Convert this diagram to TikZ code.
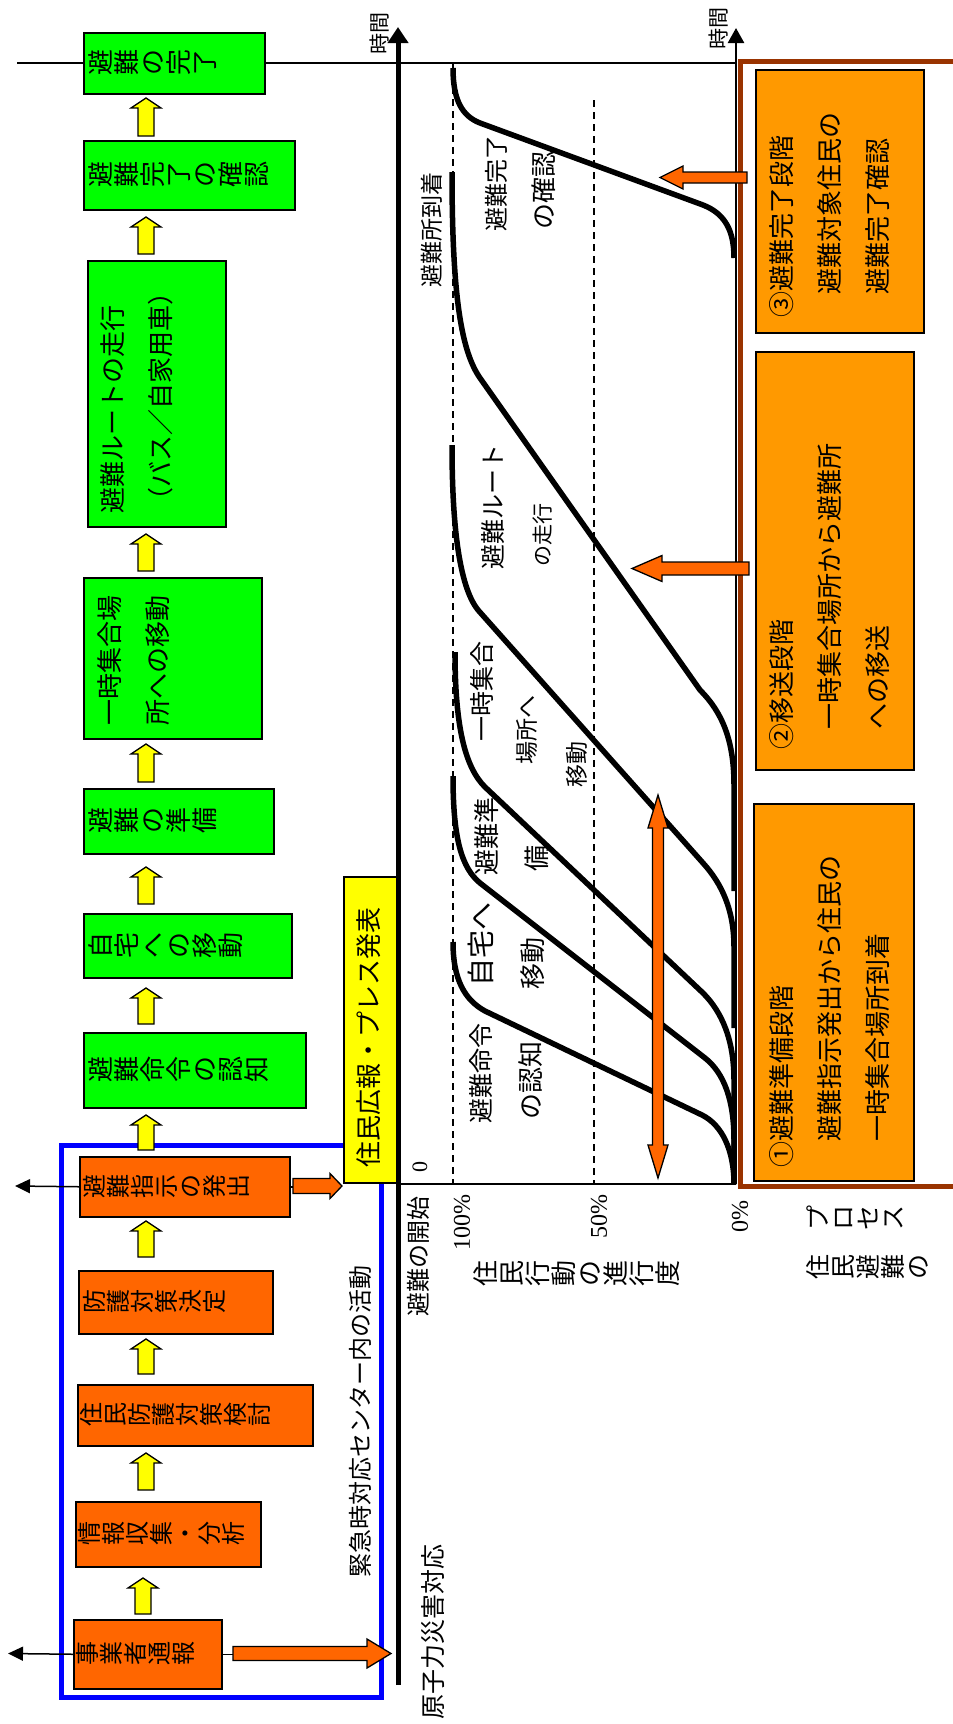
\documentclass[tikz,border=0pt]{standalone}
\usepackage{fontspec}
\setmainfont{Liberation Serif}
\newfontfamily\jp{Noto Sans CJK JP}
\usetikzlibrary{arrows.meta,calc}
\definecolor{gfill}{HTML}{00FF00}
\definecolor{ofill}{HTML}{FF6600}
\definecolor{pfill}{HTML}{FF9900}
\definecolor{brownc}{HTML}{993300}
\definecolor{yfill}{HTML}{FFFF00}
\definecolor{bluec}{HTML}{0000FF}
\newcommand\jps[1]{\fontsize{#1}{#1}\selectfont\jp}
\newcommand\bx[6]{\node[#2, minimum width={(#5-#3)*1pt}, minimum height={(#6-#4)*1pt}] (#1) at (#3,#4) {};}
\newcommand\yarr[3]{\draw[yarrow] (#1-8,#3) -- (#1-8,#2+10) -- (#1-15,#2+10) -- (#1,#2) -- (#1+15,#2+10) -- (#1+8,#2+10) -- (#1+8,#3) -- cycle;}
% horizontal block arrow: tail x, head-base x, tip x, y centre, shaft half, head half
\newcommand\harr[6]{\draw[oarrow] (#1,#4-#5) -- (#2,#4-#5) -- (#2,#4-#6) -- (#3,#4) -- (#2,#4+#6) -- (#2,#4+#5) -- (#1,#4+#5) -- cycle;}
\begin{document}
\begin{tikzpicture}[x=1pt,y=-1pt,
  box/.style={draw=black, line width=1.5pt, inner sep=0pt, anchor=north west},
  gbox/.style={box, fill=gfill},
  obox/.style={box, fill=ofill},
  pbox/.style={box, fill=pfill},
  ybox/.style={box, fill=yfill, line width=2pt},
  rt/.style={rotate=90, inner sep=0pt, anchor=west},
  tate/.style={rotate=90, inner sep=0pt, anchor=north, align=center},
  curve/.style={line width=5.5pt, line join=round},
  yarrow/.style={fill=yfill, draw=black, line width=1.3pt, line join=miter},
  oarrow/.style={fill=ofill, draw=black, line width=1.3pt, line join=miter},
  dashln/.style={line width=1.5pt, dash pattern=on 7pt off 5pt},
  thinln/.style={line width=1.5pt}
]
\useasboundingbox (0,0) rectangle (953,1724);
\clip (0,0) rectangle (953,1724);

% top horizontal line
\coordinate (tl) at (17,63);
\coordinate (tr) at (737,63);
\draw[thinln] (tl) -- (tr);

% dashed guide lines
\draw[dashln] (453,63) -- (453,1184);
\draw[dashln] (594,100) -- (594,1184);

% blue box
\draw[bluec, line width=5pt] (61,1145) rectangle (381,1697);
\node[rt, font=\jps{24}] (centre) at (360,1578) {緊急時対応センター内の活動};

% green boxes
\bx{g1}{gbox}{83}{32}{264}{93}
\bx{g2}{gbox}{83}{140}{294}{209}
\bx{g3}{gbox}{87}{260}{225}{526}
\bx{g4}{gbox}{83}{577}{261}{738}
\bx{g5}{gbox}{83}{788}{273}{853}
\bx{g6}{gbox}{83}{913}{291}{977}
\bx{g7}{gbox}{83}{1032}{305}{1107}
\node[tate, font=\jps{26}] at (88,62.5) {避\\難\\の\\完\\了};
\node[tate, font=\jps{26}] at (88,174.5) {避\\難\\完\\了\\の\\確\\認};
\node[rt, font=\jps{26}] at (113,514) {避難ルートの走行};
\node[rt, font=\jps{26}] at (161,514) {（バス／自家用車）};
\node[rt, font=\jps{26}] at (110,726) {一時集合場};
\node[rt, font=\jps{26}] at (158,726) {所への移動};
\node[tate, font=\jps{26}] at (88,820.5) {避\\難\\の\\準\\備};
\node[tate, font=\jps{26}] at (88,945) {自\\宅\\へ\\の\\移\\動};
\node[tate, font=\jps{26}] at (88,1069.5) {避\\難\\命\\令\\の\\認\\知};

% orange boxes
\bx{o1}{obox}{79}{1156}{289}{1216}
\bx{o2}{obox}{78}{1270}{272}{1333}
\bx{o3}{obox}{77}{1384}{312}{1445}
\bx{o4}{obox}{75}{1501}{260}{1566}
\bx{o5}{obox}{73}{1619}{221}{1688}
\node[tate, font=\jps{24}] at (83,1186) {避\\難\\指\\示\\の\\発\\出};
\node[tate, font=\jps{24}] at (83,1301.5) {防\\護\\対\\策\\決\\定};
\node[tate, font=\jps{24}] at (80,1414.5) {住\\民\\防\\護\\対\\策\\検\\討};
\node[tate, font=\jps{24}] at (78,1533.5) {情\\報\\収\\集\\・\\分\\析};
\node[tate, font=\jps{24}] at (76,1653.5) {事\\業\\者\\通\\報};

% yellow up arrows
\yarr{146}{98}{136}
\yarr{146}{217}{254}
\yarr{146}{534}{571}
\yarr{146}{744}{782}
\yarr{146}{867}{904}
\yarr{146}{988}{1024}
\yarr{146}{1115}{1150}
\yarr{146}{1221}{1257}
\yarr{146}{1339}{1374}
\yarr{146}{1453}{1490}
\yarr{143}{1578}{1614}

% press box
\bx{press}{ybox}{343}{876}{397}{1182}
\node[rt, font=\jps{26}] at (369,1168) {住民広報・プレス発表};

% left black arrows
\coordinate (la1) at (15,1186);
\coordinate (la5) at (8,1653.5);
\draw[thinln, -{Triangle[length=15pt,width=14pt]}] (o1.west) -- (la1);
\draw[thinln, -{Triangle[length=15pt,width=14pt]}] (o5.west) -- (la5);

% orange block arrows to the right
\draw[thinln] (o1.east) -- ++(5,0);
\harr{293}{330}{342}{1186}{7.5}{12.5}
\draw[thinln] (o5.east) -- ++(12,0);
\harr{233}{367}{391}{1653.5}{7}{14.5}

% time axes
\draw[line width=5pt, -{Triangle[length=16pt,width=20pt]}] (398,1685) -- (398,27);
\node[rt, font=\jps{21}] at (380,55) {時間};
\draw[line width=2.5pt, -{Triangle[length=15pt,width=16pt]}] (736,1184) -- (736,28);
\node[rt, font=\jps{21}] at (719,50) {時間};
\draw[line width=2.5pt] (398,1184) -- (736,1184);

% axis labels
\node[rt, font=\jps{24}] at (418,1317) {避難の開始};
\node[rt, font=\jps{25}] at (433,1720) {原子力災害対応};
\node[rotate=90, inner sep=0pt, font=\fontsize{22}{22}\selectfont] at (420,1167) {0};
\node[rt, font=\fontsize{24}{24}\selectfont] at (462,1251) {100\%};
\node[rt, font=\fontsize{24}{24}\selectfont] at (599,1239) {50\%};
\node[rt, font=\fontsize{24}{24}\selectfont] at (740,1233) {0\%};
\node[tate, font=\jps{26}] at (473,1273) {住\\民\\行\\動\\の\\進\\行\\度};
\node[tate, font=\jps{25}] at (807,1218) {プ\\ロ\\セ\\ス};
\node[tate, font=\jps{25}] at (806,1267) {住\\民\\避\\難\\の};

% brown frame
\draw[brownc, line width=5pt] (960,61) -- (740,61) -- (740,1186) -- (960,1186);

% phase boxes
\bx{p3}{pbox}{755}{69}{923}{332}
\bx{p2}{pbox}{755}{351}{913}{769}
\bx{p1}{pbox}{753}{803}{913}{1180}
\node[rt, font=\jps{26}] at (782,318) {③避難完了段階};
\node[rt, font=\jps{26}] at (830,295) {避難対象住民の};
\node[rt, font=\jps{26}] at (878,295) {避難完了確認};
\node[rt, font=\jps{26}] at (782,750) {②移送段階};
\node[rt, font=\jps{26}] at (830,730) {一時集合場所から避難所};
\node[rt, font=\jps{26}] at (878,730) {への移送};
\node[rt, font=\jps{26}] at (782,1168) {①避難準備段階};
\node[rt, font=\jps{26}] at (830,1142) {避難指示発出から住民の};
\node[rt, font=\jps{26}] at (878,1142) {一時集合場所到着};

% curves
\draw[curve] (453,68) .. controls (453,100) and (462,116) .. (480,123) -- (703,205) .. controls (726,214) and (734,232) .. (734,258);
\draw[curve] (452,172) .. controls (452,300) and (462,352) .. (480,378) -- (700,690) .. controls (722,712) and (734,740) .. (734,785) -- (734,891);
\draw[curve] (452,445) .. controls (452,540) and (462,590) .. (478,610) -- (703,863) .. controls (722,884) and (734,910) .. (734,947) -- (734,1028);
\draw[curve] (455,652) .. controls (455,730) and (466,768) .. (485,787) -- (703,993) .. controls (722,1012) and (734,1040) .. (734,1080) -- (734,1184);
\draw[curve] (453,776) .. controls (453,840) and (462,868) .. (480,883) -- (705,1058) .. controls (724,1073) and (734,1100) .. (734,1140) -- (734,1184);
\draw[curve] (453,942) .. controls (453,980) and (465,1000) .. (485,1011) -- (702,1115) .. controls (722,1125) and (734,1150) .. (734,1184);

% curve labels
\node[rt, font=\jps{24}] at (496,232) {避難完了};
\node[rt, font=\jps{26}] at (544,230) {の確認};
\node[rt, font=\jps{23}] at (432,288) {避難所到着};
\node[rt, font=\jps{25}] at (493,570) {避難ルート};
\node[rt, font=\jps{21}] at (543,567) {の走行};
\node[rt, font=\jps{25}] at (482,742) {一時集合};
\node[rt, font=\jps{23}] at (527,765) {場所へ};
\node[rt, font=\jps{23}] at (577,788) {移動};
\node[rt, font=\jps{26}] at (487,876) {避難準};
\node[rt, font=\jps{26}] at (537,872) {備};
\node[rt, font=\jps{28}] at (481,987) {自宅へ};
\node[rt, font=\jps{26}] at (533,990) {移動};
\node[rt, font=\jps{25}] at (481,1124) {避難命令};
\node[rt, font=\jps{26}] at (531,1120) {の認知};

% orange arrows from phase boxes
\harr{747}{683}{660}{177.5}{5.5}{11.5}
\harr{749}{662}{632}{568.5}{6.5}{13}
\draw[oarrow] (652.5,828) -- (648,828) -- (658,795) -- (668,828) -- (663.5,828) -- (663.5,1145) -- (668,1145) -- (658,1178) -- (648,1145) -- (652.5,1145) -- cycle;
\end{tikzpicture}
\end{document}
